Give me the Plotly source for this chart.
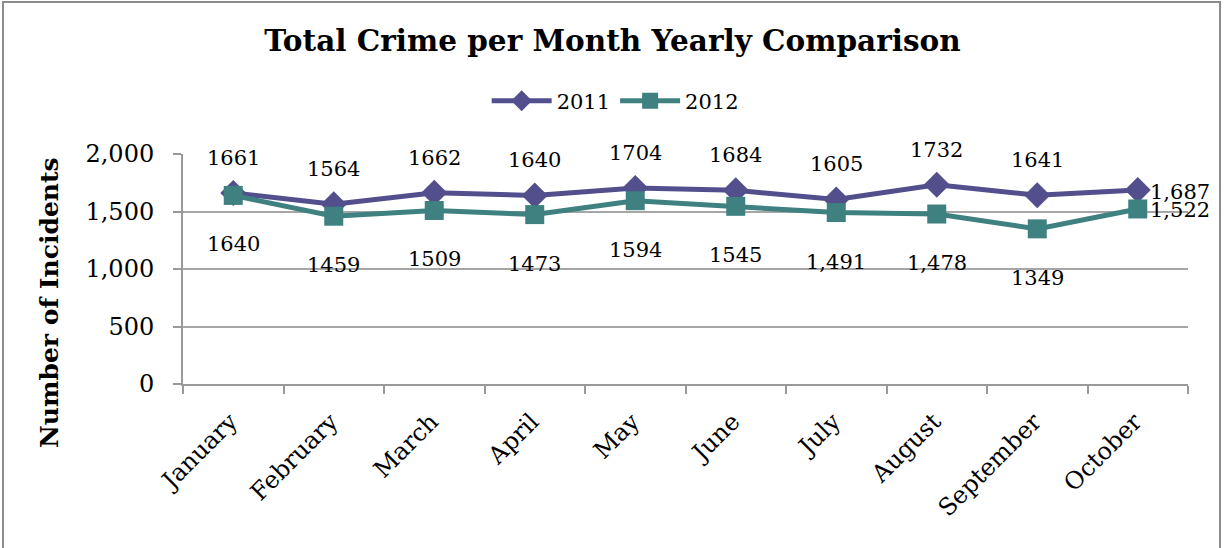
import plotly.graph_objects as go

months = ["January", "February", "March", "April", "May", "June",
          "July", "August", "September", "October"]
y2011 = [1661, 1564, 1662, 1640, 1704, 1684, 1605, 1732, 1641, 1687]
y2012 = [1640, 1459, 1509, 1473, 1594, 1545, 1491, 1478, 1349, 1522]
lab2011 = ["1661", "1564", "1662", "1640", "1704", "1684", "1605", "1732", "1641", "1,687"]
lab2012 = ["1640", "1459", "1509", "1473", "1594", "1545", "1,491", "1,478", "1349", "1,522"]
yticks = [0, 500, 1000, 1500, 2000]
ytick_text = ["0", "500", "1,000", "1,500", "2,000"]

C11 = "#524F8C"
C12 = "#3F8080"
FONT = "'DejaVu Serif', Georgia, serif"

fig = go.Figure()
fig.add_trace(go.Scatter(x=months, y=y2011, name="2011", mode="lines+markers",
                         line=dict(color=C11, width=5),
                         marker=dict(symbol="diamond", size=20, color=C11)))
fig.add_trace(go.Scatter(x=months, y=y2012, name="2012", mode="lines+markers",
                         line=dict(color=C12, width=5),
                         marker=dict(symbol="square", size=19, color=C12)))

LF = dict(size=21, color="black", family=FONT)
ann = []
n = len(months)
for i, (m, v, t) in enumerate(zip(months, y2011, lab2011)):
    if i == n - 1:
        ann.append(dict(x=m, y=v, text=t, showarrow=False, xanchor="left",
                        xshift=10, yshift=-2, font=LF))
    else:
        ann.append(dict(x=m, y=v, text=t, showarrow=False, yshift=35, font=LF))
for i, (m, v, t) in enumerate(zip(months, y2012, lab2012)):
    if i == n - 1:
        ann.append(dict(x=m, y=v, text=t, showarrow=False, xanchor="left",
                        xshift=10, yshift=-1, font=LF))
    else:
        ann.append(dict(x=m, y=v, text=t, showarrow=False, yshift=-49, font=LF))

# y axis title (placed as annotation so it can sit lower like the original)
ann.append(dict(xref="paper", yref="paper", x=-134/1005, y=81/230,
                text="<b>Number of Incidents</b>", textangle=-90, showarrow=False,
                xanchor="center", yanchor="middle",
                font=dict(size=25, family=FONT, color="black")))

fig.update_layout(
    width=1225, height=548,
    margin=dict(l=183, r=37, t=154, b=164),
    paper_bgcolor="white", plot_bgcolor="white",
    font=dict(family=FONT, size=21, color="black"),
    title=dict(text="<b>Total Crime per Month Yearly Comparison</b>",
               x=0.5, xanchor="center", y=0.925, yanchor="middle",
               font=dict(size=29.5, family=FONT, color="black")),
    legend=dict(orientation="h", x=0.43, xanchor="center", y=1.23, yanchor="middle",
                font=dict(size=21, family=FONT), itemwidth=60,
                bgcolor="rgba(0,0,0,0)"),
    annotations=ann,
)
fig.update_xaxes(range=[-0.5, len(months) - 0.5],
                 showline=True, linecolor="#999999", linewidth=2, automargin=False,
                 ticks="outside", tickson="boundaries", ticklen=8, tickcolor="#999999",
                 tickwidth=2, tickangle=-45, showgrid=False,
                 ticklabelstandoff=12, ticklabelshift=-3,
                 tickfont=dict(size=24, family=FONT))
fig.update_yaxes(range=[0, 2000], tickvals=yticks, ticktext=ytick_text, automargin=False,
                 showline=True, linecolor="#999999", linewidth=2,
                 ticks="outside", ticklen=8, tickcolor="#999999", tickwidth=2,
                 ticklabelstandoff=14,
                 showgrid=True, gridcolor="#a6a6a6", gridwidth=2,
                 zeroline=False, tickfont=dict(size=24, family=FONT))

# outer frame
fig.add_shape(type="rect", xref="paper", yref="paper",
              x0=-180/1005, x1=1.0 + 32/1005, y0=-170/230, y1=1 + 152/230,
              line=dict(color="#8c8c8c", width=2), layer="below")

fig.write_html("out.html", config={"displayModeBar": False},
               post_script="document.body.style.margin='0px';")
